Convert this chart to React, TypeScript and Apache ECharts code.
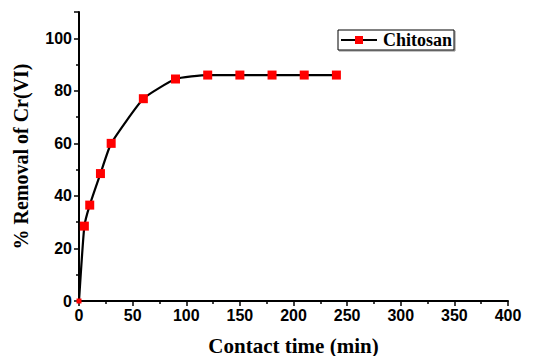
import React, { useEffect, useRef } from "react";
import * as echarts from "echarts";

const times = [0, 5, 10, 20, 30, 60, 90, 120, 150, 180, 210, 240];
const removal = [0, 28.5, 36.5, 48.5, 60, 77, 84.5, 86, 86, 86, 86, 86];
const seriesName = "Chitosan";
const xTitle = "Contact time (min)";
const yTitle = "% Removal of Cr(VI)";

export default function App() {
  const ref = useRef<HTMLDivElement>(null);
  useEffect(() => {
    if (!ref.current) return;
    const chart = echarts.init(ref.current, undefined, { renderer: "svg" });
    const tickFont = {
      color: "#000",
      fontFamily: "Liberation Sans, Arial, sans-serif",
      fontWeight: "bold" as const,
      fontSize: 16,
    };
    const nameFont = {
      color: "#000",
      fontFamily: "Liberation Serif, Times New Roman, serif",
      fontWeight: "bold" as const,
      fontSize: 19,
    };
    chart.setOption({
      animation: false,
      backgroundColor: "#fff",
      grid: {
        left: 79,
        right: 36,
        top: 12,
        bottom: 55,
        containLabel: false,
        outerBoundsMode: "none",
      },
      legend: {
        left: 338,
        top: 30,
        data: [seriesName],
        itemWidth: 36,
        itemHeight: 10,
        itemGap: 0,
        padding: [1, 2, 1, 2],
        borderColor: "#000",
        borderWidth: 1,
        borderRadius: 0,
        shadowColor: "#888",
        shadowOffsetX: 1,
        shadowOffsetY: 1,
        shadowBlur: 0,
        backgroundColor: "#fff",
        textStyle: { ...nameFont, fontSize: 18, padding: [0, 0, 0, 1] },
      },
      xAxis: {
        type: "value",
        min: 0,
        max: 400,
        interval: 50,
        name: xTitle,
        nameLocation: "middle",
        nameGap: 34,
        nameTextStyle: { ...nameFont, fontSize: 21, lineHeight: 21 },
        axisLine: { show: true, onZero: false, lineStyle: { color: "#000", width: 2 } },
        axisTick: { show: true, length: 5, lineStyle: { color: "#000", width: 1.5 } },
        minorTick: { show: true, splitNumber: 2, length: 3, lineStyle: { color: "#000", width: 1.5 } },
        splitLine: { show: false },
        axisLabel: { ...tickFont, margin: 6 },
      },
      yAxis: {
        type: "value",
        min: 0,
        max: 110,
        interval: 20,
        name: yTitle,
        nameLocation: "middle",
        nameRotate: 90,
        nameGap: 48,
        nameTextStyle: { ...nameFont, fontSize: 20 },
        axisLine: { show: true, onZero: false, lineStyle: { color: "#000", width: 2 } },
        axisTick: { show: true, length: 5, lineStyle: { color: "#000", width: 1.5 } },
        minorTick: { show: true, splitNumber: 2, length: 3, lineStyle: { color: "#000", width: 1.5 } },
        splitLine: { show: false },
        axisLabel: {
          ...tickFont,
          margin: 7,
          formatter: (v: number) => (v > 100 ? "" : String(v)),
        },
      },
      series: [
        {
          name: seriesName,
          type: "line",
          data: times.map((t, i) =>
            i === 0
              ? { value: [t, removal[i]], symbolSize: 5 }
              : [t, removal[i]]
          ),
          smooth: 0.15,
          symbol: "rect",
          symbolSize: 9,
          itemStyle: { color: "#ff0000" },
          lineStyle: { color: "#000", width: 2.2 },
          clip: false,
          z: 3,
        },
      ],
    });
    return () => chart.dispose();
  }, []);
  return (
    <div
      ref={ref}
      style={{ position: "fixed", left: 0, top: 0, width: 544, height: 356 }}
    />
  );
}
